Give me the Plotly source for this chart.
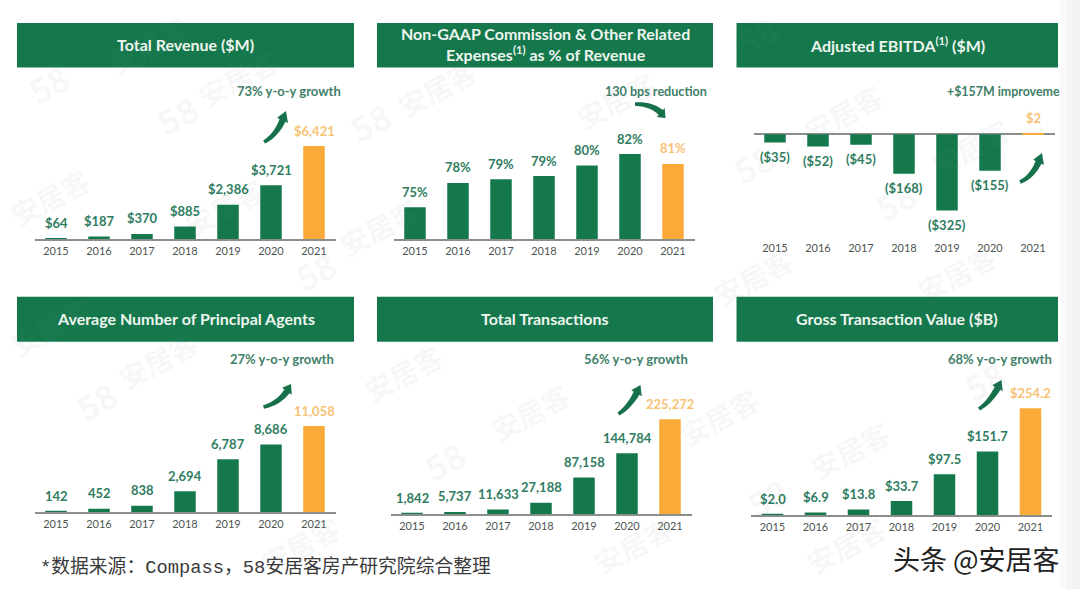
import numpy as np
import plotly.graph_objects as go

W, H = 1080, 589
years = ["2015", "2016", "2017", "2018", "2019", "2020", "2021"]

revenue = [64, 187, 370, 885, 2386, 3721, 6421]
revenue_labels = ["$64", "$187", "$370", "$885", "$2,386", "$3,721", "$6,421"]
commission = [75.0, 78.2, 78.7, 79.1, 80.5, 82.0, 80.7]
commission_labels = ["75%", "78%", "79%", "79%", "80%", "82%", "81%"]
ebitda = [-35, -52, -45, -168, -325, -155, 2]
ebitda_labels = ["($35)", "($52)", "($45)", "($168)", "($325)", "($155)", "$2"]
agents = [142, 452, 838, 2694, 6787, 8686, 11058]
agents_labels = ["142", "452", "838", "2,694", "6,787", "8,686", "11,058"]
transactions = [1842, 5737, 11633, 27188, 87158, 144784, 225272]
transactions_labels = ["1,842", "5,737", "11,633", "27,188", "87,158", "144,784", "225,272"]
gtv = [2.0, 6.9, 13.8, 33.7, 97.5, 151.7, 254.2]
gtv_labels = ["$2.0", "$6.9", "$13.8", "$33.7", "$97.5", "$151.7", "$254.2"]

GREEN = "#14784c"
ORANGE = "#fbaa3a"
VALTXT = "#2f7d60"
ORGTXT = "#f7c374"
FONT = "Lato, 'Open Sans', sans-serif"


def px(x):
    return x / W


def py(y):
    return 1 - y / H


panels = [
    dict(title="Total Revenue ($M)", vals=revenue, labs=revenue_labels, hdr=(17, 354, 23, 65.5), left=34.5, base=239.3,
         ref=6421, refh=93.3, floor=0, note="73% y-o-y growth", nx=289, ny=91.3, ns=13, arrow=(264, 142, 279, 134, 286, 111)),
    dict(title="Non-GAAP Commission & Other Related<br>Expenses<sup>(1)</sup> as % of Revenue", vals=commission, labs=commission_labels,
         hdr=(377, 713, 23, 66), left=393.5, base=239.3, ref=82.0, refh=85.3, floor=70.8, note="130 bps reduction", nx=656, ny=91.3, ns=12.6,
         arrow=(635, 104, 656, 104, 665.5, 118)),
    dict(title="Adjusted EBITDA<sup>(1)</sup> ($M)", vals=ebitda, labs=ebitda_labels, hdr=(736.5, 1058, 23, 65.5), left=753.5, base=134.3,
         ref=325, refh=76.3, floor=0, note="+$157M improveme", nx=1003.5, ny=91.3, ns=12.4, arrow=(1020, 182, 1035, 176, 1042, 153)),
    dict(title="Average Number of Principal Agents", vals=agents, labs=agents_labels, hdr=(17, 354, 296.7, 339.7), left=34.5, base=512.3,
         ref=11058, refh=86.3, floor=0, note="27% y-o-y growth", nx=282, ny=358.7, ns=13, arrow=(263.5, 407, 283, 402, 291, 384)),
    dict(title="Total Transactions", vals=transactions, labs=transactions_labels, hdr=(377, 713, 296.7, 339.7), left=390.5, base=514.3,
         ref=225272, refh=95, floor=0, note="56% y-o-y growth", nx=636, ny=358.7, ns=13, arrow=(618.5, 414, 632, 405, 640.5, 385)),
    dict(title="Gross Transaction Value ($B)", vals=gtv, labs=gtv_labels, hdr=(736.5, 1058, 296.7, 339.7), left=751, base=515.3,
         ref=254.2, refh=107, floor=0, note="68% y-o-y growth", nx=1000, ny=358.7, ns=13, arrow=(979, 409, 993, 400, 1001.5, 380)),
]

watermarks = [
    ("58", 48, 83), ("58", 177, 115), ("58", 370, 122), ("58", 315, 270), ("安居客", 50, 197), ("安居客", 238, 78),
    ("安居客", 437, 88), ("安居客", 148, 45), ("安居客", 379, 227), ("安居客", 224, 207), ("安居客", 616, 100), ("安居客", 843, 113),
    ("安居客", 970, 147), ("58", 757, 35), ("58", 753, 163), ("58", 895, 200), ("安居客", 753, 277), ("安居客", 957, 273),
    ("58", 96, 400), ("安居客", 158, 360), ("安居客", 403, 373), ("安居客", 530, 412), ("58", 444, 460), ("安居客", 50, 327),
    ("安居客", 719, 417), ("安居客", 850, 450), ("58", 984, 380), ("58", 767, 497), ("安居客", 633, 545),
    ("安居客", 846, 545), ("安居客", 300, 545),
]


def arrow_path(x0, y0, cx, cy, x1, y1):
    t = np.linspace(0, 0.78, 16)
    pts = np.array([(1 - s) ** 2 * np.array([x0, y0]) + 2 * s * (1 - s) * np.array([cx, cy]) + s ** 2 * np.array([x1, y1]) for s in t])
    d = np.gradient(pts, axis=0)
    n = np.stack([-d[:, 1], d[:, 0]], axis=1)
    n /= np.linalg.norm(n, axis=1, keepdims=True)
    w = np.linspace(1.8, 3.2, len(t))[:, None]
    a, b = pts + n * w, (pts - n * w)[::-1]
    end = pts[-1]
    head = [end + n[-1] * 6, (x1, y1), end - n[-1] * 6]
    poly = list(a) + head + list(b)
    return "M " + " L ".join(f"{px(p[0]):.5f},{py(p[1]):.5f}" for p in poly) + " Z"


fig = go.Figure()
annotations, shapes = [], []
layout = {}
TOP_PAD = 78

for txt, x, y in watermarks:
    annotations.append(dict(x=px(x), y=py(y), xref="paper", yref="paper", text=txt, showarrow=False, textangle=-28,
                            xanchor="center", yanchor="middle",
                            font=dict(family="'Noto Sans CJK SC'", size=28 if txt != "58" else 34, color="rgba(140,140,140,0.07)", weight=700)))

for i, p in enumerate(panels, start=1):
    suffix = "" if i == 1 else str(i)
    top = p["hdr"][2] + (TOP_PAD - 23)
    bottom = p["hdr"][2] + (239.3 - 23) if i <= 3 else p["base"]
    scale = p["refh"] / (p["ref"] - p["floor"])
    if i == 3:
        ymin = -(bottom - p["base"]) / scale
        ymax = (p["base"] - top) / scale
    else:
        ymin = p["floor"]
        ymax = p["floor"] + (p["base"] - top) / scale
    colors = [GREEN] * 6 + [ORANGE]
    fig.add_trace(go.Bar(x=years, y=p["vals"], marker=dict(color=colors, line_width=0), width=0.5,
                         xaxis=f"x{suffix}", yaxis=f"y{suffix}", showlegend=False))
    layout[f"xaxis{suffix}"] = dict(domain=[px(p["left"]), px(p["left"] + 301)], type="category", range=[-0.5, 6.5],
                                    anchor=f"y{suffix}", showgrid=False, ticks="", ticklabelstandoff=1,
                                    showline=i != 3, linecolor="#8a8f8c", linewidth=1.5, zeroline=False,
                                    tickfont=dict(family=FONT, size=11, color="#4d5552"), fixedrange=True)
    layout[f"yaxis{suffix}"] = dict(domain=[py(bottom), py(top)], range=[ymin, ymax], anchor=f"x{suffix}",
                                    showgrid=False, showticklabels=False, ticks="", showline=False,
                                    zeroline=i == 3, zerolinecolor="#8a8f8c", zerolinewidth=1.5, fixedrange=True)
    for k, (v, lab, c) in enumerate(zip(p["vals"], p["labs"], colors)):
        annotations.append(dict(x=k, y=v, xref=f"x{suffix}", yref=f"y{suffix}", text=lab, showarrow=False,
                                yanchor="middle", xanchor="center", yshift=-14 if v < 0 else 15.5,
                                font=dict(family=FONT, size=13, color=ORGTXT if c == ORANGE else VALTXT, weight=700)))
    x0, x1, y0, y1 = p["hdr"]
    shapes.append(dict(type="rect", xref="paper", yref="paper", x0=px(x0), x1=px(x1), y0=py(y0), y1=py(67.5 if i <= 3 else 341.7), fillcolor=GREEN,
                       line_width=0, layer="below"))
    annotations.append(dict(x=px((x0 + x1) / 2), y=py((y0 + y1) / 2), xref="paper", yref="paper", text=p["title"], showarrow=False,
                            xanchor="center", yanchor="middle",
                            font=dict(family=FONT, size=16, color="#eef5ef", weight=700), align="center"))
    annotations.append(dict(x=px(p["nx"]), y=py(p["ny"]), xref="paper", yref="paper", text=p["note"], showarrow=False,
                            xanchor="center", yanchor="middle",
                            font=dict(family=FONT, size=p["ns"], color="#3f7f68", weight=700)))
    shapes.append(dict(type="path", xref="paper", yref="paper", path=arrow_path(*p["arrow"]), fillcolor="#16704a", line_width=0))

# faint right-hand edge of the screenshot
for x0, c in ((1060, "#fafafa"), (1066, "#f5f5f5"), (1073, "#f1f1f1")):
    shapes.append(dict(type="rect", xref="paper", yref="paper", x0=px(x0), x1=1, y0=0, y1=1, fillcolor=c, line_width=0, layer="below"))

annotations.append(dict(x=px(38), y=py(567.3), xref="paper", yref="paper", xanchor="left", yanchor="middle", showarrow=False,
                        text="*数据来源：Compass，58安居客房产研究院综合整理",
                        font=dict(family="'Liberation Mono', 'Noto Sans CJK SC'", size=18.8, color="#3a3a3a")))
annotations.append(dict(x=px(1062), y=py(558.5), xref="paper", yref="paper", xanchor="right", yanchor="middle", showarrow=False,
                        text="头条 @安居客", font=dict(family="'Noto Sans CJK SC'", size=27, color="#222222")))

fig.update_layout(width=W, height=H, margin=dict(l=0, r=0, t=0, b=0), paper_bgcolor="white", plot_bgcolor="rgba(0,0,0,0)",
                  barmode="overlay", annotations=annotations, shapes=shapes, **layout)
fig.write_html("out.html", config=dict(displayModeBar=False),
               post_script="document.body.style.margin='0';document.documentElement.style.overflow='hidden';")
